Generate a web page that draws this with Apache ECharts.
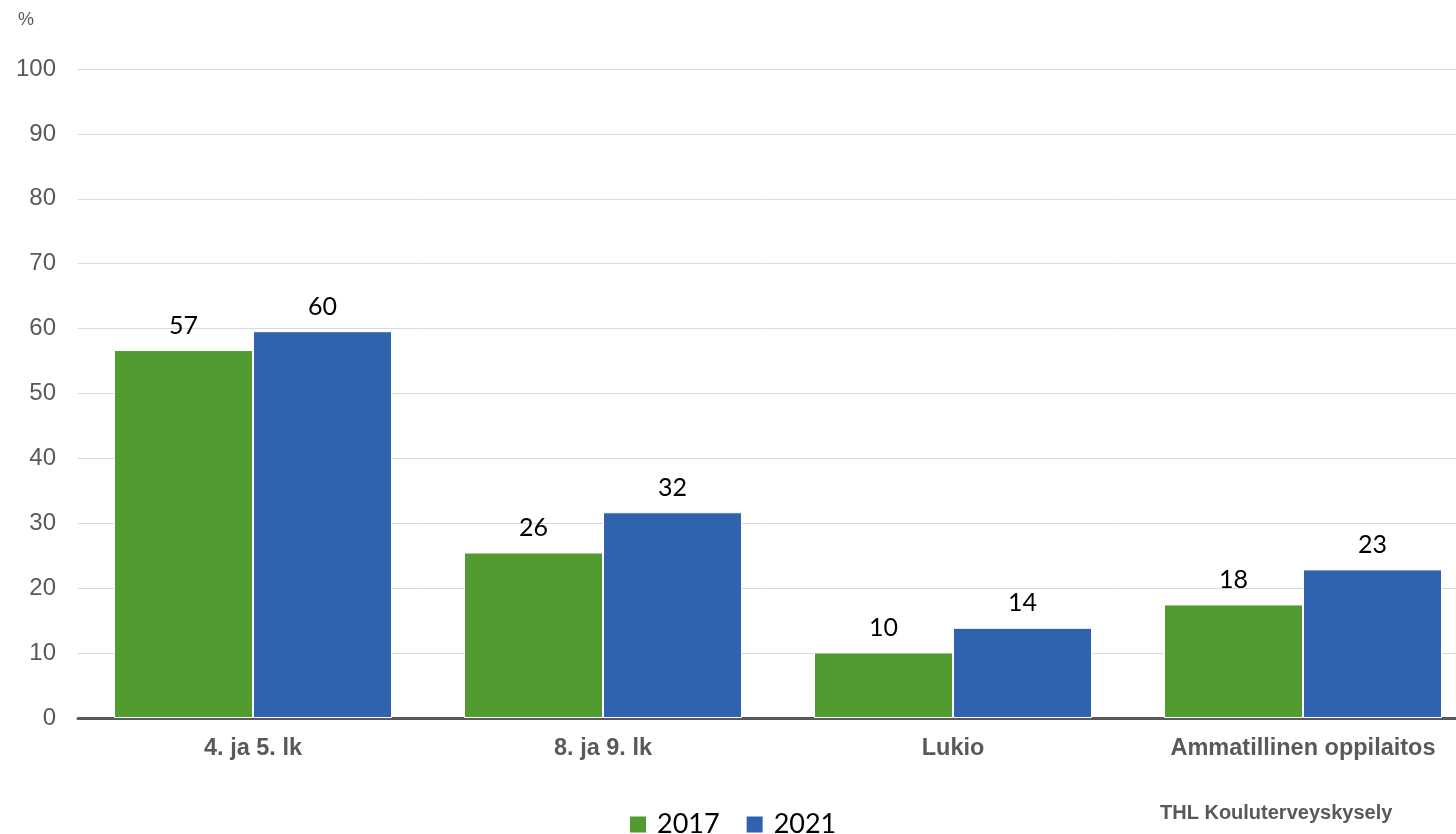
<!DOCTYPE html>
<html>
<head>
<meta charset="utf-8">
<script src="https://cdn.jsdelivr.net/npm/echarts@6/dist/echarts.min.js"></script>
<style>html,body{margin:0;padding:0;background:#fff}#c{width:1456px;height:834px}</style>
</head>
<body>
<div id="c"></div>
<script>
const categories = ['4. ja 5. lk', '8. ja 9. lk', 'Lukio', 'Ammatillinen oppilaitos'];
const series2017 = [56.7, 25.5, 10.1, 17.5];
const series2021 = [59.6, 31.7, 13.9, 22.9];
const yTicks = { min: 0, max: 100, interval: 10 };

const chart = echarts.init(document.getElementById('c'));
const labelStyle = {
  show: true, position: 'top', distance: 12,
  fontFamily: 'Lato, "Open Sans", sans-serif', fontSize: 25, color: '#000',
  formatter: p => Math.round(p.value)
};
chart.setOption({
  animation: false,
  grid: { left: 78, top: 69, right: -22, bottom: 116, containLabel: false, outerBoundsMode: 'none' },
  title: { text: '%', left: 18, top: 11, padding: 0, textStyle: { fontFamily: '"Liberation Sans", Arial, sans-serif', fontSize: 18, fontWeight: 'normal', color: '#595959' } },
  legend: {
    bottom: -4, left: 628, padding: 0, itemWidth: 18, itemHeight: 18, itemGap: 25,
    icon: 'rect',
    textStyle: { fontFamily: 'Lato, "Open Sans", sans-serif', fontSize: 27, color: '#000', padding: [0, 0, 0, 5] },
    data: ['2017', '2021']
  },
  graphic: [{
    type: 'text', left: 1160, top: 803,
    style: { text: 'THL Kouluterveyskysely', font: 'bold 20px "Liberation Sans", Arial, sans-serif', fill: '#595959' }
  }],
  xAxis: {
    type: 'category', data: categories,
    axisLine: { lineStyle: { color: '#595959', width: 3 } },
    axisTick: { show: false },
    axisLabel: { interval: 0, margin: 19, fontFamily: '"Liberation Sans", Arial, sans-serif', fontSize: 23.5, fontWeight: 'bold', color: '#595959' }
  },
  yAxis: {
    type: 'value', min: yTicks.min, max: yTicks.max, interval: yTicks.interval,
    axisLine: { show: false }, axisTick: { show: false },
    splitLine: { lineStyle: { color: '#d9d9d9', width: 1 } },
    axisLabel: { margin: 22, fontFamily: '"Liberation Sans", Arial, sans-serif', fontSize: 24, color: '#595959' }
  },
  series: [
    { name: '2017', type: 'bar', data: series2017, barWidth: 139, barGap: '0%',
      itemStyle: { color: '#529b30', borderColor: '#fff', borderWidth: 1 }, label: labelStyle },
    { name: '2021', type: 'bar', data: series2021, barWidth: 139,
      itemStyle: { color: '#3063ad', borderColor: '#fff', borderWidth: 1 }, label: labelStyle }
  ]
});
</script>
</body>
</html>
